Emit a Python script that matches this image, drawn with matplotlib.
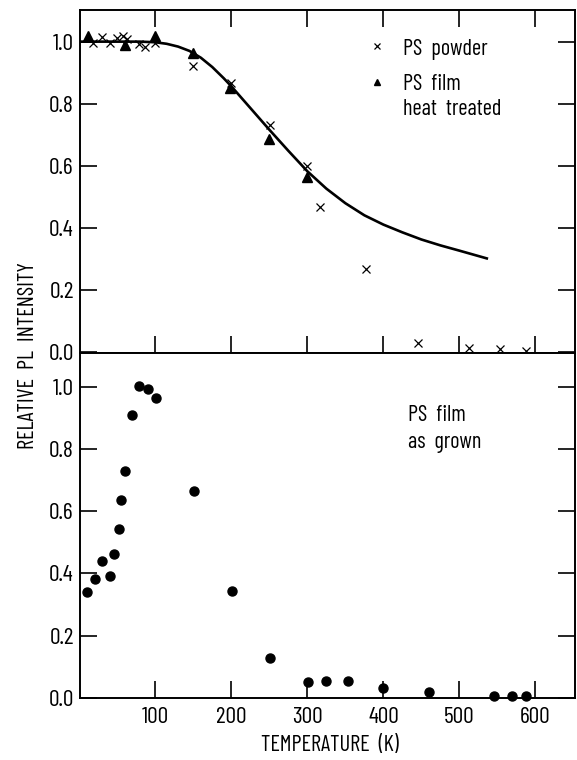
import matplotlib
matplotlib.use("Agg")
import matplotlib.pyplot as plt
from matplotlib.textpath import TextPath
from matplotlib.font_manager import FontProperties

FAMILY = ['Barlow Condensed', 'DejaVu Sans']
WEIGHT = 400
plt.rcParams['font.family'] = FAMILY
plt.rcParams['font.weight'] = WEIGHT

# ---- data: top panel ----
powder_T = [18, 30, 40, 50, 57, 63, 78, 87, 100, 149, 199, 251, 300, 317, 377, 445, 513, 554, 587]
powder_I = [0.995, 1.015, 0.997, 1.012, 1.018, 1.01, 0.992, 0.982, 0.997, 0.92, 0.866, 0.731,
            0.60, 0.466, 0.268, 0.027, 0.011, 0.008, 0.004]
film_ht_T = [12, 60, 100, 149, 198, 250, 300]
film_ht_I = [1.018, 0.99, 1.018, 0.963, 0.85, 0.685, 0.565]
curve_T = [0, 40, 80, 100, 115, 130, 145, 160, 175, 190, 200, 225, 250, 275, 300, 325, 350,
           375, 400, 425, 450, 475, 500, 536]
curve_I = [1.0, 1.0, 1.0, 0.998, 0.993, 0.984, 0.97, 0.948, 0.918, 0.882, 0.856, 0.786, 0.716,
           0.648, 0.582, 0.526, 0.479, 0.44, 0.41, 0.385, 0.362, 0.343, 0.326, 0.301]

# ---- data: bottom panel ----
grown_T = [10, 21, 30, 41, 46, 52, 55, 60, 69, 79, 90, 101, 151, 201, 251, 301, 324, 353, 399, 460, 546, 569, 587]
grown_I = [0.341, 0.383, 0.44, 0.391, 0.462, 0.543, 0.635, 0.73, 0.91, 1.003, 0.993, 0.965,
           0.664, 0.343, 0.13, 0.05, 0.054, 0.053, 0.033, 0.02, 0.005, 0.005, 0.005]

xticks = [100, 200, 300, 400, 500, 600]
yticks = [0.0, 0.2, 0.4, 0.6, 0.8, 1.0]
ytick_labels = ['0.0', '0.2', '0.4', '0.6', '0.8', '1.0']

DPI = 100
FP = FontProperties(family=FAMILY, weight=WEIGHT)


def fit_pt(text, target_px):
    """font size (pt) that gives the text the wanted width in pixels"""
    w = TextPath((0, 0), text, size=100, prop=FP).get_extents().width
    return target_px / w * 100 * 72 / DPI


fig = plt.figure(figsize=(5.77, 7.60), dpi=DPI)
L, W = 80 / 577, 495 / 577
ax1 = fig.add_axes([L, 1 - 353 / 760, W, 343 / 760])
ax2 = fig.add_axes([L, 1 - 698 / 760, W, 345 / 760])

FS = fit_pt('TEMPERATURE  (K)', 137)
FS_TICK = fit_pt('300', 28.5)
for ax in (ax1, ax2):
    for s in ax.spines.values():
        s.set_linewidth(1.4)
    ax.set_xlim(1, 652)
    ax.set_xticks(xticks)
    ax.set_yticks(yticks)
    ax.set_yticklabels(ytick_labels)
    ax.tick_params(direction='in', length=12, width=1.2, right=True, labelright=False,
                   labelsize=FS_TICK)
    ax.tick_params(axis='y', pad=4.5)
    ax.tick_params(axis='x', pad=6.5)

ax1.set_ylim(-0.004, 1.102)
ax1.tick_params(axis='x', top=True, labelbottom=False)
ax2.set_ylim(0, 1.108)
ax2.tick_params(axis='x', top=False)

ax1.plot(curve_T, curve_I, color='black', lw=1.9, zorder=2, solid_joinstyle='round')
ax1.plot(powder_T, powder_I, ls='none', marker='x', ms=6, mew=0.9, color='black', zorder=3, clip_on=False)
ax1.plot(film_ht_T, film_ht_I, ls='none', marker='^', ms=7, color='black', zorder=3, clip_on=False)

ax2.plot(grown_T, grown_I, ls='none', marker='o', ms=6.5, color='black', zorder=3, clip_on=False)

# legend-like annotations (top panel)
ax1.plot([0.599], [0.895], transform=ax1.transAxes, marker='x', ms=5, mew=0.9, color='black', ls='none')
ax1.plot([0.599], [0.791], transform=ax1.transAxes, marker='^', ms=5, color='black', ls='none')
ax1.text(0.6525, 0.892, 'PS  powder', transform=ax1.transAxes, fontsize=FS, va='center_baseline', ha='left')
ax1.text(0.6525, 0.790, 'PS  film', transform=ax1.transAxes, fontsize=FS, va='center_baseline', ha='left')
ax1.text(0.6525, 0.717, 'heat  treated', transform=ax1.transAxes, fontsize=FS, va='center_baseline', ha='left')

ax2.text(0.6626, 0.826, 'PS  film', transform=ax2.transAxes, fontsize=FS, va='center_baseline', ha='left')
ax2.text(0.6626, 0.748, 'as  grown', transform=ax2.transAxes, fontsize=FS, va='center_baseline', ha='left')

fig.text(329.5 / 577, 1 - 743 / 760, 'TEMPERATURE  (K)', fontsize=FS, ha='center', va='center_baseline')
fig.text(29 / 577, 1 - 356 / 760, 'RELATIVE  PL  INTENSITY', fontsize=FS, ha='center', va='center', rotation=90)

fig.savefig('out.png', dpi=DPI)
